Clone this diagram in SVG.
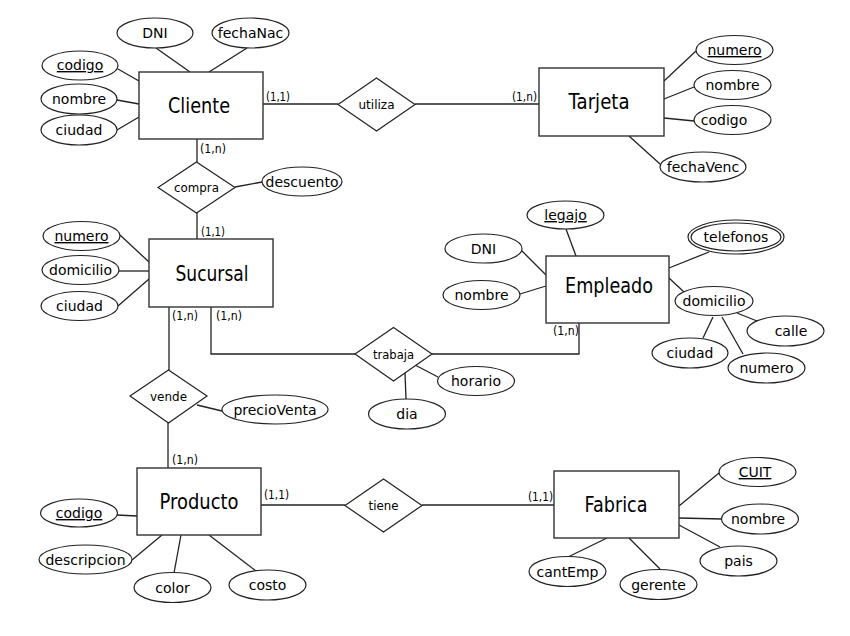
<svg xmlns="http://www.w3.org/2000/svg" width="850" height="636" viewBox="0 0 850 636">
<style>
  .ent rect { fill: #fff; stroke: #333; stroke-width: 1.4; }
  .ent text { font-family: "DejaVu Sans", sans-serif; font-size: 22px; fill: #000; text-anchor: middle; }
  .att ellipse, .rel polygon { fill: #fff; stroke: #222; stroke-width: 1.2; }
  .att text { font-family: "DejaVu Sans", sans-serif; font-size: 14px; fill: #000; text-anchor: middle; }
  .rel text { font-family: "DejaVu Sans", sans-serif; font-size: 12.5px; fill: #000; text-anchor: middle; }
  .key { text-decoration: underline; }
  #connectors path { fill: none; stroke: #222; stroke-width: 1.3; }
  .card { font-family: "DejaVu Sans", sans-serif; font-size: 12.5px; fill: #000; }
</style>
<rect width="850" height="636" fill="#fff"/>
<g id="connectors">
  <path d="M156,48 L190,72"/>
  <path d="M247,48 L209,72"/>
  <path d="M118,69 L139,81"/>
  <path d="M117,100 L139,104"/>
  <path d="M117,130 L139,117"/>
  <path d="M263,104 L338,104"/>
  <path d="M415,104 L539,104"/>
  <path d="M197,139 L197,162"/>
  <path d="M235,187 L262,182"/>
  <path d="M197,213 L197,239"/>
  <path d="M664,81 L696,51"/>
  <path d="M664,99 L694,87"/>
  <path d="M664,118 L694,121"/>
  <path d="M629,136 L660,164"/>
  <path d="M120,235 L149,262"/>
  <path d="M119,271 L149,271"/>
  <path d="M118,306 L149,279"/>
  <path d="M169,307 L169,370"/>
  <path d="M211,307 L211,354 L355,354"/>
  <path d="M432,354 L579,354 L579,323"/>
  <path d="M415,365 L438,377"/>
  <path d="M405,373 L406,399"/>
  <path d="M197,405 L222,411"/>
  <path d="M168,423 L168,468"/>
  <path d="M566,229 L576,256"/>
  <path d="M522,251 L546,275"/>
  <path d="M520,294 L546,286"/>
  <path d="M669,268 L709,252"/>
  <path d="M669,278 L684,292"/>
  <path d="M703,338 L713,317"/>
  <path d="M722,317 L743,354"/>
  <path d="M737,313 L757,321"/>
  <path d="M117,515 L137,516"/>
  <path d="M132,560 L162,535"/>
  <path d="M174,573 L181,535"/>
  <path d="M256,571 L209,535"/>
  <path d="M261,505 L345,505"/>
  <path d="M422,505 L554,505"/>
  <path d="M679,506 L719,473"/>
  <path d="M679,518 L722,519"/>
  <path d="M679,525 L720,547"/>
  <path d="M568,557 L607,538"/>
  <path d="M629,538 L660,569"/>
  <text class="card" x="266" y="101" textLength="24" lengthAdjust="spacingAndGlyphs">(1,1)</text>
  <text class="card" x="512" y="101" textLength="25" lengthAdjust="spacingAndGlyphs">(1,n)</text>
  <text class="card" x="200" y="153" textLength="26" lengthAdjust="spacingAndGlyphs">(1,n)</text>
  <text class="card" x="201" y="236" textLength="24" lengthAdjust="spacingAndGlyphs">(1,1)</text>
  <text class="card" x="172" y="320" textLength="26" lengthAdjust="spacingAndGlyphs">(1,n)</text>
  <text class="card" x="216" y="320" textLength="26" lengthAdjust="spacingAndGlyphs">(1,n)</text>
  <text class="card" x="553" y="335" textLength="26" lengthAdjust="spacingAndGlyphs">(1,n)</text>
  <text class="card" x="172" y="464" textLength="26" lengthAdjust="spacingAndGlyphs">(1,n)</text>
  <text class="card" x="264" y="499" textLength="25" lengthAdjust="spacingAndGlyphs">(1,1)</text>
  <text class="card" x="528" y="501" textLength="25" lengthAdjust="spacingAndGlyphs">(1,1)</text>
</g>
<g id="Cliente" class="ent"><rect x="139" y="72" width="124" height="67"/><text x="199" y="113" textLength="62" lengthAdjust="spacingAndGlyphs">Cliente</text></g>
<g id="Tarjeta" class="ent"><rect x="539" y="68" width="125" height="68"/><text x="599" y="109" textLength="61" lengthAdjust="spacingAndGlyphs">Tarjeta</text></g>
<g id="Sucursal" class="ent"><rect x="149" y="239" width="124" height="68"/><text x="212" y="281" textLength="73" lengthAdjust="spacingAndGlyphs">Sucursal</text></g>
<g id="Empleado" class="ent"><rect x="546" y="256" width="123" height="67"/><text x="609" y="293" textLength="88" lengthAdjust="spacingAndGlyphs">Empleado</text></g>
<g id="Producto" class="ent"><rect x="137" y="468" width="124" height="67"/><text x="199" y="509" textLength="79" lengthAdjust="spacingAndGlyphs">Producto</text></g>
<g id="Fabrica" class="ent"><rect x="554" y="471" width="125" height="67"/><text x="616" y="512" textLength="63" lengthAdjust="spacingAndGlyphs">Fabrica</text></g>

<g id="utiliza" class="rel"><polygon points="338,104.5 376.5,78 415,104.5 376.5,131"/><text x="376.5" y="109" textLength="36" lengthAdjust="spacingAndGlyphs">utiliza</text></g>
<g id="compra" class="rel"><polygon points="158,187.5 196.5,162 235,187.5 196.5,213"/><text x="196.5" y="192" textLength="45" lengthAdjust="spacingAndGlyphs">compra</text></g>
<g id="trabaja" class="rel"><polygon points="355,354 393.5,327.5 432,354 393.5,381"/><text x="393.5" y="358.5" textLength="41" lengthAdjust="spacingAndGlyphs">trabaja</text></g>
<g id="vende" class="rel"><polygon points="130,396 168.5,370 207,396 168.5,423"/><text x="168.5" y="400.5" textLength="37" lengthAdjust="spacingAndGlyphs">vende</text></g>
<g id="tiene" class="rel"><polygon points="345,505.5 383.5,479 422,505.5 383.5,532"/><text x="383.5" y="510" textLength="30" lengthAdjust="spacingAndGlyphs">tiene</text></g>

<g id="cli_DNI" class="att"><ellipse cx="155" cy="33" rx="38" ry="15"/><text x="155" y="38">DNI</text></g>
<g id="cli_fechaNac" class="att"><ellipse cx="250.5" cy="33" rx="38.5" ry="15"/><text x="250.5" y="38">fechaNac</text></g>
<g id="cli_codigo" class="att"><ellipse cx="80" cy="65.5" rx="38" ry="14.5"/><text class="key" x="80" y="70">codigo</text></g>
<g id="cli_nombre" class="att"><ellipse cx="79" cy="99" rx="38" ry="15"/><text x="79" y="104">nombre</text></g>
<g id="cli_ciudad" class="att"><ellipse cx="79" cy="130" rx="38" ry="15"/><text x="79" y="135">ciudad</text></g>
<g id="cli_descuento" class="att"><ellipse cx="302" cy="181.5" rx="40" ry="14.5"/><text x="302" y="186.5">descuento</text></g>

<g id="tar_numero" class="att"><ellipse cx="734.5" cy="50" rx="38.5" ry="14.5"/><text class="key" x="734.5" y="55">numero</text></g>
<g id="tar_nombre" class="att"><ellipse cx="732.5" cy="85" rx="38.5" ry="14.5"/><text x="732.5" y="90">nombre</text></g>
<g id="tar_codigo" class="att"><ellipse cx="732.5" cy="120" rx="38.5" ry="14.5"/><text x="724" y="125">codigo</text></g>
<g id="tar_fechaVenc" class="att"><ellipse cx="703" cy="167" rx="43" ry="15"/><text x="703" y="172">fechaVenc</text></g>

<g id="suc_numero" class="att"><ellipse cx="81.5" cy="236" rx="38.5" ry="14.5"/><text class="key" x="81.5" y="241">numero</text></g>
<g id="suc_domicilio" class="att"><ellipse cx="80.5" cy="270" rx="38.5" ry="14.5"/><text x="80.5" y="275">domicilio</text></g>
<g id="suc_ciudad" class="att"><ellipse cx="79.5" cy="306" rx="38.5" ry="14.5"/><text x="79.5" y="311">ciudad</text></g>
<g id="rel_precioVenta" class="att"><ellipse cx="275" cy="409.5" rx="53" ry="14.5"/><text x="275" y="414.5">precioVenta</text></g>
<g id="rel_horario" class="att"><ellipse cx="476" cy="381" rx="38.5" ry="14.5"/><text x="476" y="386">horario</text></g>
<g id="rel_dia" class="att"><ellipse cx="407" cy="414" rx="38.5" ry="15"/><text x="407" y="419">dia</text></g>

<g id="emp_legajo" class="att"><ellipse cx="565.5" cy="215" rx="38.5" ry="14"/><text class="key" x="565.5" y="220">legajo</text></g>
<g id="emp_DNI" class="att"><ellipse cx="483.5" cy="248.5" rx="38.5" ry="14.5"/><text x="483.5" y="253.5">DNI</text></g>
<g id="emp_nombre" class="att"><ellipse cx="481.5" cy="295" rx="38.5" ry="14.5"/><text x="481.5" y="300">nombre</text></g>
<g id="emp_telefonos" class="att"><ellipse cx="736" cy="237" rx="48" ry="17"/><ellipse cx="736" cy="237" rx="45" ry="14"/><text x="736" y="242">telefonos</text></g>
<g id="emp_domicilio" class="att"><ellipse cx="714" cy="301" rx="39" ry="14.5"/><text x="714" y="306">domicilio</text></g>
<g id="emp_calle" class="att"><ellipse cx="785.5" cy="331" rx="38.5" ry="15"/><text x="791" y="336">calle</text></g>
<g id="emp_ciudad" class="att"><ellipse cx="690" cy="353" rx="38" ry="15"/><text x="690" y="358">ciudad</text></g>
<g id="emp_numero" class="att"><ellipse cx="766.5" cy="368" rx="38.5" ry="15"/><text x="766.5" y="373">numero</text></g>

<g id="pro_codigo" class="att"><ellipse cx="79" cy="513" rx="38.5" ry="14"/><text class="key" x="79" y="518">codigo</text></g>
<g id="pro_descripcion" class="att"><ellipse cx="85.5" cy="559.5" rx="46.5" ry="14.5"/><text x="85.5" y="564.5">descripcion</text></g>
<g id="pro_color" class="att"><ellipse cx="172.5" cy="587.5" rx="38.5" ry="15"/><text x="172.5" y="592.5">color</text></g>
<g id="pro_costo" class="att"><ellipse cx="267.5" cy="585" rx="38.5" ry="15"/><text x="267.5" y="590">costo</text></g>

<g id="fab_CUIT" class="att"><ellipse cx="757.5" cy="472" rx="38.5" ry="14.5"/><text class="key" x="755" y="477">CUIT</text></g>
<g id="fab_nombre" class="att"><ellipse cx="760" cy="519" rx="38.5" ry="15"/><text x="758" y="524">nombre</text></g>
<g id="fab_pais" class="att"><ellipse cx="738.5" cy="561" rx="38.5" ry="15"/><text x="738.5" y="566">pais</text></g>
<g id="fab_cantEmp" class="att"><ellipse cx="567.5" cy="571.5" rx="38.5" ry="15"/><text x="567.5" y="576.5">cantEmp</text></g>
<g id="fab_gerente" class="att"><ellipse cx="658.5" cy="584.5" rx="38.5" ry="15"/><text x="658.5" y="589.5">gerente</text></g>
</svg>
